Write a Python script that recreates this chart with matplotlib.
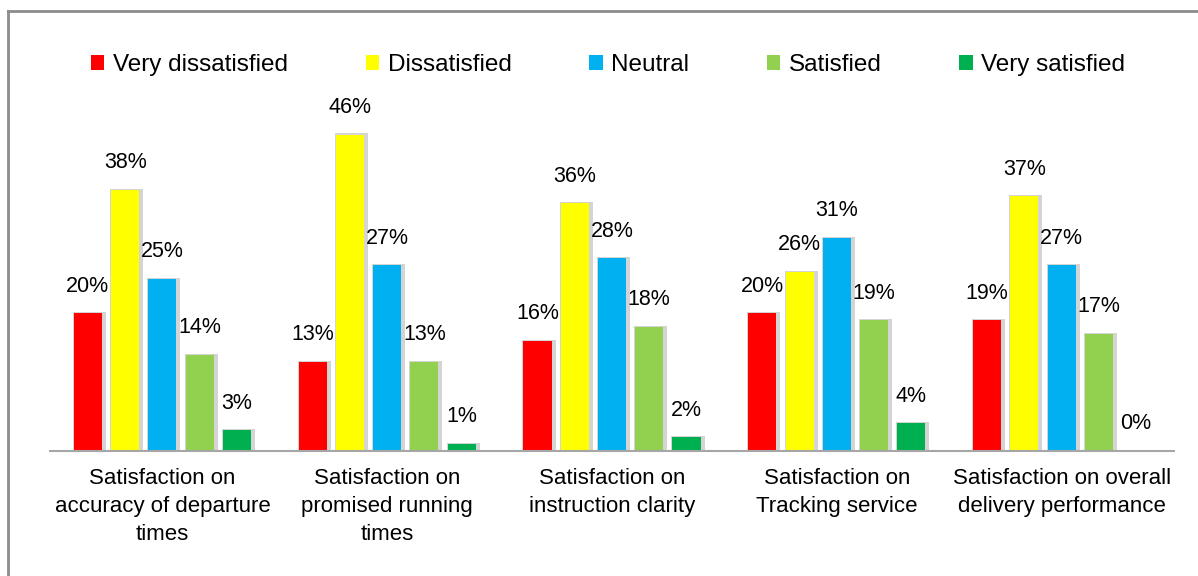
import matplotlib.pyplot as plt
import numpy as np
from matplotlib.lines import Line2D

plt.rcParams['font.family'] = ['Liberation Sans', 'DejaVu Sans']

categories = ['Satisfaction on\naccuracy of departure\ntimes',
              'Satisfaction on\npromised running\ntimes',
              'Satisfaction on\ninstruction clarity',
              'Satisfaction on\nTracking service',
              'Satisfaction on overall\ndelivery performance']
series = ['Very dissatisfied', 'Dissatisfied', 'Neutral', 'Satisfied', 'Very satisfied']
very_dissatisfied = [20, 13, 16, 20, 19]
dissatisfied = [38, 46, 36, 26, 37]
neutral = [25, 27, 28, 31, 27]
satisfied = [14, 13, 18, 19, 17]
very_satisfied = [3, 1, 2, 4, 0]
colors = ['#FF0000', '#FFFF00', '#00B0F0', '#92D050', '#00B050']

data = [very_dissatisfied, dissatisfied, neutral, satisfied, very_satisfied]

W, H = 1198, 576
fig = plt.figure(figsize=(W / 100, H / 100), dpi=100)
ax = fig.add_axes([50 / W, (H - 451) / H, 1124 / W, 344 / H])

x = np.arange(len(categories))
pitch = 0.1657
bw = 0.125
px = 1 / 224.8

for i, (vals, c, name) in enumerate(zip(data, colors, series)):
    pos = x + (i - 2) * pitch
    # soft shadow
    ax.bar(pos + 1.5 * px, np.array(vals) + 0.15, width=bw + 5 * px,
           color='#d4d4d4', zorder=1)
    ax.bar(pos, vals, width=bw, color=c, label=name, zorder=2)
    for p, v in zip(pos, vals):
        ax.annotate(f'{v}%', (p, v), xytext=(0, 12), textcoords='offset points',
                    ha='center', va='bottom', fontsize=15.5)

ax.set_xlim(-0.5, len(categories) - 0.5)
ax.set_ylim(0, 50)
ax.set_xticks(x)
ax.set_xticklabels(categories, fontsize=16, linespacing=1.45)
ax.tick_params(axis='x', length=0, pad=12)
ax.set_yticks([])
for s in ['top', 'left', 'right']:
    ax.spines[s].set_visible(False)
ax.spines['bottom'].set_color('#a6a6a6')
ax.spines['bottom'].set_linewidth(1.5)

fig.legend(loc='center left', bbox_to_anchor=(91 / W, 1 - 65 / H), ncol=5,
           frameon=False, fontsize=17.5, handlelength=0.55, handleheight=0.55,
           handletextpad=0.35, columnspacing=3.2, borderpad=0, borderaxespad=0)

# outer frame (left and top edges visible)
fig.add_artist(Line2D([8 / W, 8 / W], [0, 1 - 11 / H], color='#8c8c8c', lw=2))
fig.add_artist(Line2D([8 / W, 1], [1 - 11 / H, 1 - 11 / H], color='#8c8c8c', lw=2))

fig.savefig('out.png', dpi=100)
